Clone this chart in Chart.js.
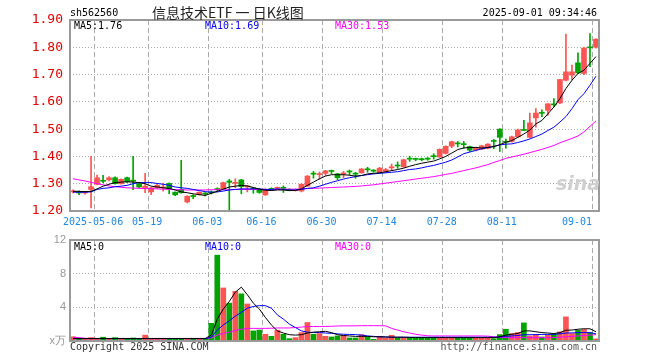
<!DOCTYPE html>
<html>
<head>
<meta charset="utf-8">
<script src="https://cdn.jsdelivr.net/npm/chart.js@4/dist/chart.umd.min.js"></script>
<style>
body { margin: 0; background: #fff; width: 660px; height: 360px; position: relative; overflow: hidden; font-family: "DejaVu Sans Mono", monospace; }
canvas { position: absolute; left: 0; }
#k { top: 0; }
#v { top: 228px; }
.t { position: absolute; white-space: nowrap; font-size: 10px; line-height: 12px; color: #000; }
</style>
</head>
<body>
<canvas id="k" width="660" height="232"></canvas>
<canvas id="v" width="660" height="132"></canvas>

<div class="t" style="left:70px;top:7px">sh562560</div>
<div class="t" style="left:152px;top:3px;font-family:'Noto Sans CJK SC';font-size:14px;line-height:18px;color:#222">信息技术ETF 一 日K线图</div>
<div class="t" style="right:63px;top:7px">2025-09-01 09:34:46</div>

<div class="t" style="left:74px;top:20px">MA5:1.76</div>
<div class="t" style="left:205px;top:20px;color:#0000ff">MA10:1.69</div>
<div class="t" style="left:335px;top:20px;color:#ff00ff">MA30:1.53</div>

<div class="t" style="left:74px;top:241px">MA5:0</div>
<div class="t" style="left:205px;top:241px;color:#0000ff">MA10:0</div>
<div class="t" style="left:335px;top:241px;color:#ff00ff">MA30:0</div>

<div class="t" style="left:556px;top:172px;font-family:'DejaVu Sans';font-style:italic;font-weight:bold;font-size:19px;line-height:22px;color:#cfcfcf">sina</div>

<div class="t" style="left:70px;top:341px;color:#333">Copyright 2025 SINA.COM</div>
<div class="t" style="right:63px;top:341px;color:#555">http://finance.sina.com.cn</div>

<script>
// 交易日
const dates = [
  '2025-04-25','2025-04-28','2025-04-29','2025-04-30',
  '2025-05-06','2025-05-07','2025-05-08','2025-05-09',
  '2025-05-12','2025-05-13','2025-05-14','2025-05-15','2025-05-16',
  '2025-05-19','2025-05-20','2025-05-21','2025-05-22','2025-05-23',
  '2025-05-26','2025-05-27','2025-05-28','2025-05-29','2025-05-30',
  '2025-06-03','2025-06-04','2025-06-05','2025-06-06',
  '2025-06-09','2025-06-10','2025-06-11','2025-06-12','2025-06-13',
  '2025-06-16','2025-06-17','2025-06-18','2025-06-19','2025-06-20',
  '2025-06-23','2025-06-24','2025-06-25','2025-06-26','2025-06-27',
  '2025-06-30','2025-07-01','2025-07-02','2025-07-03','2025-07-04',
  '2025-07-07','2025-07-08','2025-07-09','2025-07-10','2025-07-11',
  '2025-07-14','2025-07-15','2025-07-16','2025-07-17','2025-07-18',
  '2025-07-21','2025-07-22','2025-07-23','2025-07-24','2025-07-25',
  '2025-07-28','2025-07-29','2025-07-30','2025-07-31','2025-08-01',
  '2025-08-04','2025-08-05','2025-08-06','2025-08-07','2025-08-08',
  '2025-08-11','2025-08-12','2025-08-13','2025-08-14','2025-08-15',
  '2025-08-18','2025-08-19','2025-08-20','2025-08-21','2025-08-22',
  '2025-08-25','2025-08-26','2025-08-27','2025-08-28','2025-08-29',
  '2025-09-01'
];
const tickDates = ['2025-05-06','2025-05-19','2025-06-03','2025-06-16','2025-06-30',
                   '2025-07-14','2025-07-28','2025-08-11','2025-09-01'];

// K线
const openP = [
  1.270,1.270,1.266,1.279,1.298,1.311,1.314,1.322,1.300,1.322,
  1.313,1.300,1.285,1.270,1.285,1.284,1.301,1.269,1.279,1.233,
  1.256,1.260,1.265,1.270,1.282,1.281,1.310,1.301,1.314,1.288,
  1.283,1.279,1.259,1.282,1.283,1.285,1.279,1.275,1.273,1.291,
  1.338,1.333,1.338,1.347,1.336,1.336,1.346,1.338,1.340,1.354,
  1.348,1.340,1.346,1.358,1.368,1.362,1.393,1.391,1.390,1.392,
  1.402,1.398,1.411,1.438,1.449,1.446,1.436,1.423,1.427,1.430,
  1.457,1.500,1.455,1.455,1.472,1.497,1.470,1.541,1.560,1.569,
  1.592,1.596,1.679,1.698,1.743,1.704,1.801,1.800
];
const highP = [
  1.278,1.274,1.272,1.400,1.332,1.331,1.326,1.325,1.318,1.324,
  1.400,1.302,1.338,1.287,1.298,1.302,1.303,1.270,1.386,1.256,
  1.260,1.270,1.268,1.274,1.285,1.306,1.316,1.318,1.316,1.294,
  1.287,1.283,1.282,1.285,1.288,1.292,1.282,1.281,1.300,1.330,
  1.345,1.343,1.349,1.350,1.338,1.345,1.350,1.342,1.356,1.360,
  1.352,1.360,1.356,1.372,1.380,1.390,1.401,1.394,1.394,1.396,
  1.410,1.428,1.439,1.456,1.455,1.455,1.438,1.434,1.441,1.447,
  1.462,1.502,1.464,1.475,1.500,1.532,1.559,1.575,1.571,1.593,
  1.612,1.682,1.848,1.735,1.780,1.800,1.850,1.831
];
const lowP = [
  1.266,1.260,1.262,1.211,1.296,1.304,1.310,1.298,1.298,1.305,
  1.278,1.285,1.267,1.260,1.283,1.273,1.263,1.256,1.265,1.230,
  1.245,1.258,1.255,1.262,1.270,1.279,1.200,1.285,1.263,1.270,
  1.265,1.265,1.257,1.275,1.280,1.268,1.274,1.273,1.270,1.290,
  1.320,1.316,1.330,1.336,1.315,1.322,1.332,1.320,1.338,1.342,
  1.342,1.338,1.340,1.348,1.356,1.360,1.382,1.384,1.384,1.386,
  1.390,1.396,1.409,1.432,1.435,1.430,1.418,1.420,1.425,1.428,
  1.428,1.418,1.430,1.452,1.470,1.495,1.468,1.507,1.546,1.550,
  1.582,1.593,1.677,1.680,1.704,1.700,1.729,1.797
];
const closeP = [
  1.274,1.266,1.269,1.289,1.322,1.309,1.322,1.300,1.316,1.307,
  1.309,1.288,1.291,1.285,1.294,1.288,1.282,1.259,1.267,1.254,
  1.253,1.269,1.262,1.266,1.278,1.304,1.305,1.305,1.289,1.292,
  1.281,1.268,1.279,1.279,1.286,1.283,1.275,1.278,1.298,1.328,
  1.335,1.337,1.347,1.345,1.322,1.339,1.343,1.335,1.354,1.351,
  1.346,1.357,1.352,1.362,1.365,1.388,1.390,1.389,1.388,1.390,
  1.399,1.426,1.437,1.454,1.446,1.443,1.423,1.433,1.439,1.445,
  1.455,1.470,1.452,1.472,1.497,1.495,1.523,1.559,1.558,1.593,
  1.589,1.682,1.710,1.710,1.706,1.797,1.798,1.830
];

// 均线
const ma5 = [
  1.272,1.272,1.271,1.272,1.281,1.291,1.298,1.304,1.306,1.307,
  1.306,1.304,1.300,1.291,1.288,1.285,1.283,1.277,1.270,1.267,
  1.263,1.260,1.257,1.265,1.272,1.280,1.288,1.291,1.294,1.292,
  1.286,1.280,1.276,1.275,1.277,1.277,1.275,1.275,1.281,1.294,
  1.306,1.318,1.328,1.333,1.333,1.333,1.331,1.328,1.330,1.336,
  1.338,1.340,1.344,1.348,1.352,1.357,1.364,1.370,1.375,1.379,
  1.383,1.391,1.400,1.412,1.425,1.431,1.433,1.433,1.431,1.433,
  1.436,1.443,1.452,1.458,1.470,1.482,1.497,1.519,1.532,1.556,
  1.581,1.612,1.649,1.679,1.704,1.716,1.741,1.766
];
const ma10 = [
  1.269,1.269,1.269,1.270,1.279,1.283,1.285,1.289,1.291,1.294,
  1.300,1.304,1.304,1.304,1.301,1.298,1.294,1.288,1.285,1.283,
  1.279,1.275,1.271,1.269,1.270,1.273,1.277,1.279,1.281,1.281,
  1.281,1.281,1.279,1.279,1.281,1.279,1.277,1.277,1.279,1.283,
  1.285,1.291,1.298,1.305,1.311,1.317,1.322,1.326,1.330,1.333,
  1.336,1.338,1.340,1.342,1.344,1.348,1.352,1.354,1.358,1.363,
  1.367,1.373,1.379,1.387,1.398,1.410,1.416,1.422,1.428,1.432,
  1.437,1.442,1.445,1.446,1.451,1.457,1.464,1.473,1.482,1.495,
  1.507,1.526,1.546,1.575,1.608,1.630,1.661,1.694
];
const ma30 = [
  1.318,1.314,1.310,1.305,1.300,1.296,1.292,1.289,1.287,1.285,
  1.284,1.283,1.282,1.282,1.281,1.280,1.279,1.278,1.278,1.277,
  1.277,1.277,1.277,1.278,1.278,1.278,1.278,1.279,1.279,1.279,
  1.279,1.279,1.279,1.279,1.279,1.280,1.280,1.280,1.281,1.282,
  1.283,1.284,1.285,1.286,1.287,1.288,1.289,1.290,1.292,1.294,
  1.296,1.299,1.302,1.305,1.308,1.311,1.314,1.317,1.320,1.323,
  1.326,1.330,1.334,1.338,1.343,1.348,1.353,1.358,1.364,1.370,
  1.378,1.385,1.393,1.398,1.403,1.408,1.414,1.420,1.426,1.433,
  1.440,1.450,1.458,1.466,1.475,1.490,1.510,1.530
];

// 成交量(万)
const volume = [
  0.50,0.30,0.20,0.40,0.30,0.45,0.30,0.40,0.25,0.30,
  0.35,0.30,0.70,0.30,0.30,0.25,0.30,0.20,0.25,0.30,
  0.25,0.20,0.30,2.10,10.2,6.30,4.50,5.90,5.60,4.40,
  1.20,1.30,0.80,0.56,1.28,0.80,0.28,0.40,1.00,2.20,
  0.80,0.88,0.56,0.48,0.60,0.68,0.36,0.36,0.76,0.48,
  0.20,0.56,0.36,0.68,0.36,0.36,0.36,0.36,0.36,0.36,
  0.36,0.36,0.36,0.36,0.36,0.36,0.36,0.36,0.36,0.36,
  0.28,0.76,1.40,0.88,1.00,2.15,0.60,0.76,0.48,0.68,
  0.80,1.08,2.87,0.88,1.28,1.36,1.00,0.25
];
const volMa5 = [
  0.30,0.30,0.30,0.30,0.30,0.30,0.30,0.30,0.30,0.30,
  0.30,0.30,0.30,0.30,0.30,0.30,0.30,0.30,0.30,0.30,
  0.30,0.30,0.30,0.70,2.60,3.80,4.70,5.80,6.40,5.50,
  4.50,3.80,2.80,1.90,1.20,0.95,0.75,0.70,0.75,0.95,
  1.05,1.10,1.15,1.00,0.75,0.65,0.60,0.55,0.55,0.55,
  0.50,0.50,0.48,0.45,0.45,0.45,0.42,0.40,0.40,0.40,
  0.40,0.40,0.40,0.40,0.40,0.40,0.40,0.40,0.40,0.40,
  0.40,0.50,0.70,0.80,0.90,1.20,1.20,1.10,1.00,0.95,
  0.88,1.00,1.28,1.30,1.40,1.45,1.45,1.10
];
const volMa10 = [
  0.28,0.28,0.28,0.28,0.28,0.28,0.28,0.28,0.28,0.28,
  0.28,0.28,0.28,0.28,0.28,0.28,0.28,0.28,0.28,0.28,
  0.28,0.28,0.28,0.45,1.30,1.90,2.40,2.95,3.40,3.90,
  4.10,4.20,4.20,3.90,3.10,2.60,2.00,1.60,1.20,1.05,
  1.00,1.00,0.95,0.90,0.85,0.80,0.78,0.76,0.70,0.60,
  0.55,0.50,0.48,0.45,0.45,0.45,0.45,0.45,0.45,0.45,
  0.45,0.45,0.45,0.45,0.45,0.45,0.45,0.45,0.45,0.45,
  0.45,0.48,0.55,0.60,0.65,0.75,0.75,0.76,0.78,0.78,
  0.80,0.85,0.95,0.96,1.00,1.00,1.00,0.85
];
const volMa30 = [
  0.45,0.40,0.32,0.30,0.30,0.30,0.30,0.30,0.30,0.30,
  0.30,0.30,0.30,0.30,0.30,0.30,0.30,0.30,0.30,0.30,
  0.30,0.30,0.30,0.37,0.70,0.90,1.05,1.25,1.40,1.50,
  1.50,1.50,1.50,1.52,1.55,1.55,1.55,1.60,1.65,1.72,
  1.72,1.73,1.73,1.75,1.78,1.80,1.80,1.80,1.82,1.82,
  1.82,1.82,1.80,1.50,1.30,1.10,0.95,0.80,0.70,0.62,
  0.60,0.60,0.60,0.60,0.60,0.60,0.60,0.60,0.60,0.58,
  0.50,0.45,0.40,0.40,0.40,0.40,0.40,0.40,0.40,0.40,
  0.40,0.45,0.50,0.55,0.60,0.65,0.70,0.75
];

const RED = '#ff5454';
const GREEN = '#00a400';
const GRID = '#aaaaaa';
const firstTick = dates.indexOf(tickDates[0]);
const lastTick = dates.indexOf(tickDates[tickDates.length - 1]);

const candleColor = closeP.map((c, i) => c >= openP[i] ? RED : GREEN);
const bodies = openP.map((o, i) => [Math.min(o, closeP[i]), Math.max(o, closeP[i])]);
const wicks = lowP.map((l, i) => [l, highP[i]]);

Chart.defaults.font.family = "'DejaVu Sans Mono', monospace";
Chart.defaults.font.size = 10;
Chart.defaults.animation = false;

// 外框
const boxPlugin = {
    id: 'box',
    afterDraw(chart) {
        const a = chart.chartArea;
        const ctx = chart.ctx;
        ctx.save();
        ctx.strokeStyle = '#9a9a9a';
        ctx.lineWidth = 2;
        ctx.strokeRect(a.left, a.top, a.right - a.left, a.bottom - a.top);
        ctx.restore();
    }
};

function xAxis(showLabels, h) {
    return {
        type: 'category',
        offset: true,
        afterFit(s) { s.height = h; },
        grid: {
            offset: true,
            drawTicks: false,
            color: c => tickDates.includes(dates[c.index]) ? GRID : 'rgba(0,0,0,0)'
        },
        border: { display: false, dash: [5, 3] },
        ticks: {
            autoSkip: false,
            maxRotation: 0,
            padding: 5,
            labelOffset: -4,
            color: showLabels ? '#2288dd' : 'rgba(0,0,0,0)',
            callback: (v, i) => {
                if (!tickDates.includes(dates[i])) return '';
                if (i === firstTick) return dates[i];
                // 最后一个日期靠左, 不出框
                if (i === lastTick) return dates[i].slice(5) + '     ';
                return dates[i].slice(5);
            }
        }
    };
}

function maLine(data, color) {
    return { type: 'line', data: data, borderColor: color, borderWidth: 1,
             pointRadius: 0, tension: 0, order: 0 };
}

new Chart(document.getElementById('k'), {
    type: 'bar',
    data: {
        labels: dates,
        datasets: [
            maLine(ma5, '#000000'),
            maLine(ma10, '#0000ff'),
            maLine(ma30, '#ff00ff'),
            { data: bodies, backgroundColor: candleColor, barThickness: 5,
              minBarLength: 1, grouped: false, order: 1 },
            { data: wicks, backgroundColor: candleColor, barThickness: 1,
              grouped: false, order: 2 }
        ]
    },
    options: {
        responsive: false,
        layout: { padding: { left: 0, right: 61, top: 20, bottom: 0 } },
        plugins: { legend: { display: false }, tooltip: { enabled: false } },
        scales: {
            x: xAxis(true, 21),
            y: {
                min: 1.2, max: 1.9,
                afterFit(s) { s.width = 70; },
                grid: { color: GRID, drawTicks: false },
                border: { display: false, dash: [1, 2] },
                ticks: { stepSize: 0.1, padding: 7, color: '#e00000',
                         font: { size: 13 }, callback: v => v.toFixed(2) }
            }
        }
    },
    plugins: [boxPlugin]
});

new Chart(document.getElementById('v'), {
    type: 'bar',
    data: {
        labels: dates,
        datasets: [
            maLine(volMa5, '#000000'),
            maLine(volMa10, '#0000ff'),
            maLine(volMa30, '#ff00ff'),
            { data: volume, backgroundColor: candleColor, barThickness: 5, order: 1 }
        ]
    },
    options: {
        responsive: false,
        layout: { padding: { left: 0, right: 61, top: 12, bottom: 0 } },
        plugins: { legend: { display: false }, tooltip: { enabled: false } },
        scales: {
            x: xAxis(false, 19),
            y: {
                min: 0, max: 12,
                afterFit(s) { s.width = 70; },
                grid: { color: GRID, drawTicks: false },
                border: { display: false, dash: [1, 2] },
                ticks: { stepSize: 4, padding: 4, color: '#999999',
                         font: { family: "'Liberation Sans', sans-serif", size: 11 },
                         callback: v => v === 0 ? 'x万' : v }
            }
        }
    },
    plugins: [boxPlugin]
});
</script>
</body>
</html>
